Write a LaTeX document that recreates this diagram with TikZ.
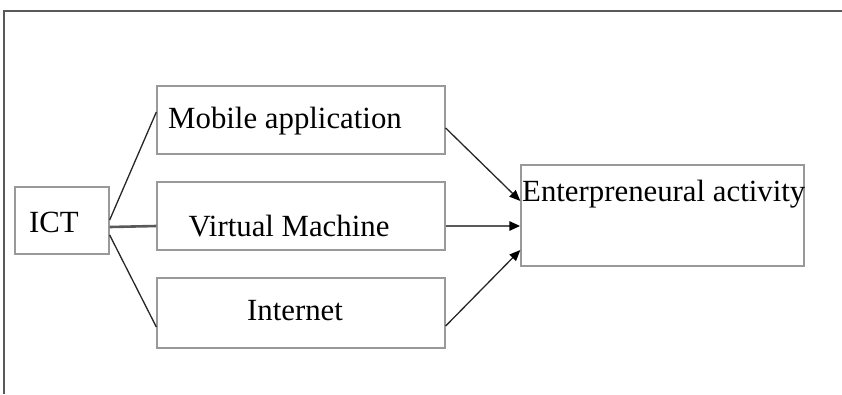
\documentclass[tikz,border=0pt]{standalone}
\usepackage{fontspec}
\setmainfont{Liberation Serif}
\usetikzlibrary{arrows.meta}
\begin{document}
\begin{tikzpicture}[x=1pt,y=-1pt,
  box/.style={draw=gray!80, line width=1.3pt, fill=white, inner sep=0pt},
  txt/.style={font=\fontsize{30.8}{36}\selectfont, inner sep=0pt, text=black},
  link/.style={line width=1.3pt, black!85},
  thick link/.style={line width=2.6pt, gray!70!black},
  arr/.style={-{Triangle[length=11pt,width=9pt,fill=black,color=black]}}
]
\useasboundingbox (0,0) rectangle (842,394);
\draw[line width=2pt, gray!70!black] (4,394) -- (4,11) -- (842,11);

\node[box, minimum width=94pt, minimum height=67pt] (ict) at (62,220.5) {};
\node[box, minimum width=288pt, minimum height=68pt] (mob) at (301,120) {};
\node[box, minimum width=288pt, minimum height=68pt] (vm) at (301,216) {};
\node[box, minimum width=288pt, minimum height=70pt] (inet) at (301,313) {};
\node[box, minimum width=283pt, minimum height=101pt] (ea) at (662.5,215.5) {};

\node[txt] (tict) at (54,222) {ICT};
\node[txt] (tmob) at (285,121) {Mobile application};
\node[txt] (tvm) at (289,226) {Virtual Machine};
\node[txt] (tinet) at (295,311) {Internet};
\node[txt, anchor=base west] (tea) at (522,201) {Enterpreneural activity};

\draw[link] ([yshift=0.5pt]ict.east) -- ([yshift=8pt]mob.west);
\draw[thick link] ([yshift=-6.5pt]ict.east) -- ([yshift=-10pt]vm.west);
\draw[link] ([yshift=-14.5pt]ict.east) -- ([yshift=-14pt]inet.west);

\draw[link, arr] ([yshift=-8pt]mob.east) -- ([yshift=14.5pt]ea.west);
\draw[thick link, arr] ([yshift=-10pt]vm.east) -- ([yshift=-10.5pt]ea.west);
\draw[link, arr] ([yshift=-13pt]inet.east) -- ([yshift=-34.5pt]ea.west);
\end{tikzpicture}
\end{document}
